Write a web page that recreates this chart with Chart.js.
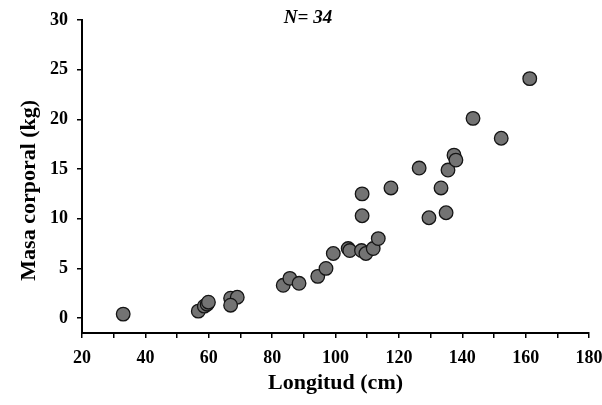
<!DOCTYPE html>
<html>
<head>
<meta charset="utf-8">
<script src="https://cdn.jsdelivr.net/npm/chart.js@4"></script>
<style>
html,body{margin:0;padding:0;background:#fff;}
#wrap{width:602px;height:405px;position:relative;}
</style>
</head>
<body>
<div id="wrap"><canvas id="c" width="602" height="405"></canvas></div>
<script>
// Longitud (cm)
const longitud = [33.0, 56.7, 58.6, 59.5, 59.9, 66.9, 69.0, 66.9, 83.5, 85.6, 88.5, 94.4, 97.0, 99.3,
  104.0, 104.5, 108.2, 109.6, 111.9, 113.5, 108.4, 108.4, 117.5, 129.5, 134.9, 133.3, 126.4, 135.5,
  137.4, 138.0, 143.4, 152.3, 161.3];
// Masa corporal (kg)
const masa = [0.4, 0.7, 1.2, 1.4, 1.6, 2.0, 2.1, 1.3, 3.3, 4.0, 3.5, 4.2, 5.0, 6.5,
  7.0, 6.8, 6.8, 6.5, 7.0, 8.0, 10.3, 12.5, 13.1, 10.1, 10.6, 13.1, 15.1, 14.9,
  16.4, 15.9, 20.1, 18.1, 24.1];
const xTickLabels = [20, 40, 60, 80, 100, 120, 140, 160, 180];
const yTickLabels = [0, 5, 10, 15, 20, 25, 30];
const nLabel = 'N= 34';
const xTitle = 'Longitud (cm)';
const yTitle = 'Masa corporal (kg)';

const points = longitud.map((x, i) => ({x: x, y: masa[i]}));
const serif = "'Liberation Serif', 'Times New Roman', serif";

const nPlugin = {
  id: 'nlabel',
  afterDraw(chart) {
    const ctx = chart.ctx;
    ctx.save();
    ctx.font = 'italic bold 19px ' + serif;
    ctx.fillStyle = '#000';
    ctx.textAlign = 'center';
    ctx.textBaseline = 'middle';
    ctx.fillText(nLabel, 308, 18);
    ctx.restore();
  }
};

new Chart(document.getElementById('c'), {
  type: 'scatter',
  data: {
    datasets: [{
      data: points,
      backgroundColor: '#737373',
      borderColor: '#151515',
      borderWidth: 1.3,
      pointRadius: 6.8,
      pointHoverRadius: 6.8
    }]
  },
  plugins: [nPlugin],
  options: {
    responsive: false,
    animation: false,
    events: [],
    layout: {padding: {left: 0, right: 13, top: 20, bottom: 0}},
    plugins: {legend: {display: false}, tooltip: {enabled: false}, title: {display: false}},
    scales: {
      x: {
        type: 'linear',
        min: 20, max: 180,
        afterBuildTicks(axis) {
          const t = [];
          for (let v = xTickLabels[0]; v <= xTickLabels[xTickLabels.length - 1]; v += 10) t.push({value: v});
          axis.ticks = t;
        },
        afterFit(scale) { scale.height = 72; scale.paddingLeft = 0; scale.paddingRight = 0; },
        ticks: {
          autoSkip: false,
          maxRotation: 0,
          padding: 10,
          color: '#000',
          font: {family: serif, size: 18, weight: 'bold'},
          callback: (v) => xTickLabels.includes(v) ? String(v) : ''
        },
        grid: {drawOnChartArea: false, drawTicks: true, tickLength: 5, color: '#000', lineWidth: 1.5},
        border: {display: true, color: '#000', width: 2},
        title: {display: true, text: xTitle, color: '#000', font: {family: serif, size: 22, weight: 'bold'}, padding: {top: 8, bottom: 8}}
      },
      y: {
        type: 'linear',
        min: -1.5, max: 30,
        afterBuildTicks(axis) { axis.ticks = yTickLabels.map(v => ({value: v})); },
        afterFit(scale) { scale.width = 82; },
        ticks: {
          padding: 9,
          color: '#000',
          font: {family: serif, size: 18, weight: 'bold'},
          callback: (v) => String(v)
        },
        grid: {drawOnChartArea: false, drawTicks: true, tickLength: 5, color: '#000', lineWidth: 1.5},
        border: {display: true, color: '#000', width: 2},
        title: {display: true, text: yTitle + '\u00a0\u00a0\u00a0\u00a0\u00a0', color: '#000', font: {family: serif, size: 22, weight: 'bold'}, padding: {top: 16, bottom: 16}}
      }
    }
  }
});
</script>
</body>
</html>
